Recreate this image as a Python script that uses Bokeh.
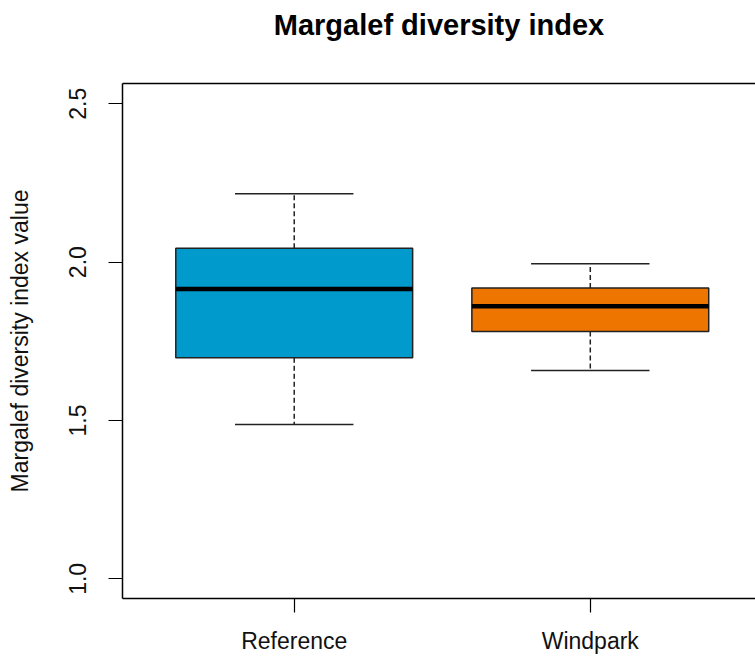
from bokeh.plotting import figure
from bokeh.models import FixedTicker, Range1d, LinearAxis
from bokeh.embed import file_html
from bokeh.resources import INLINE

# ---- data ----
categories = ["Reference", "Windpark"]
whisker_low = [1.487, 1.658]
q1 = [1.698, 1.781]
median = [1.915, 1.861]
q3 = [2.044, 1.918]
whisker_high = [2.216, 1.995]
box_colors = ["#009ACD", "#EE7600"]
y_ticks = [1.0, 1.5, 2.0, 2.5]

title_text = "Margalef diversity index"
y_label = "Margalef diversity index value"

FONT = "Liberation Sans"

xs = [i + 1 for i in range(len(categories))]
box_w = 0.8
cap_w = 0.4

p = figure(width=755, height=656, output_backend="svg", toolbar_location=None,
           x_range=Range1d(0.42, 2.558), y_range=Range1d(0.938, 2.564),
           min_border_left=122, min_border_right=0, min_border_top=83,
           min_border_bottom=58)

p.background_fill_color = "white"
p.border_fill_color = "white"
p.outline_line_color = None
p.xgrid.visible = False
p.ygrid.visible = False

# whiskers (dashed)
p.segment(x0=xs, y0=q3, x1=xs, y1=whisker_high, line_color="#222222",
          line_width=1.5, line_dash="5 3")
p.segment(x0=xs, y0=q1, x1=xs, y1=whisker_low, line_color="#222222",
          line_width=1.5, line_dash="5 3")
# caps
p.segment(x0=[x - cap_w / 2 for x in xs], y0=whisker_high,
          x1=[x + cap_w / 2 for x in xs], y1=whisker_high,
          line_color="#222222", line_width=1.5)
p.segment(x0=[x - cap_w / 2 for x in xs], y0=whisker_low,
          x1=[x + cap_w / 2 for x in xs], y1=whisker_low,
          line_color="#222222", line_width=1.5)
# boxes
p.vbar(x=xs, width=box_w, bottom=q1, top=q3, fill_color=box_colors,
       line_color="#222222", line_width=1.5)
# medians
p.segment(x0=[x - box_w / 2 for x in xs], y0=median,
          x1=[x + box_w / 2 for x in xs], y1=median,
          line_color="black", line_width=4.5)

# x axis (bottom)
xa = p.below[0]
xa.ticker = FixedTicker(ticks=xs)
xa.major_label_overrides = {x: c for x, c in zip(xs, categories)}
xa.axis_line_color = "black"
xa.axis_line_width = 1.5
xa.major_tick_line_color = "black"
xa.major_tick_line_width = 1.2
xa.major_tick_out = 14
xa.major_tick_in = 0
xa.minor_tick_line_color = None
xa.major_label_standoff = 15
xa.major_label_text_font = FONT
xa.major_label_text_font_size = "23px"
xa.major_label_text_color = "#111111"

# y axis (left)
ya = p.left[0]
ya.ticker = FixedTicker(ticks=y_ticks)
ya.major_label_overrides = {t: f"{t:.1f}" for t in y_ticks}
ya.major_label_orientation = "vertical"
ya.axis_line_color = "black"
ya.axis_line_width = 1.5
ya.major_tick_line_color = "black"
ya.major_tick_line_width = 1.2
ya.major_tick_out = 14
ya.major_tick_in = 0
ya.minor_tick_line_color = None
ya.major_label_standoff = 22
ya.major_label_text_font = FONT
ya.major_label_text_font_size = "23px"
ya.major_label_text_color = "#111111"
ya.axis_label = y_label
ya.axis_label_text_font = FONT
ya.axis_label_text_font_size = "23px"
ya.axis_label_text_font_style = "normal"
ya.axis_label_text_color = "#111111"
ya.axis_label_standoff = 34

# top border line of the frame; its blank label space lifts the title
top = LinearAxis(ticker=FixedTicker(ticks=[]), major_label_text_font_size="0px",
                 major_label_standoff=0,
                 axis_line_color="black", axis_line_width=1.5,
                 major_tick_out=0, major_tick_in=0,
                 major_tick_line_color=None, minor_tick_line_color=None,
                 axis_label=" ", axis_label_text_font=FONT,
                 axis_label_text_font_size="20px", axis_label_standoff=13)
p.add_layout(top, "above")

# title
p.title.text = title_text
p.title.align = "center"
p.title.offset = 5
p.title.standoff = 10
p.title.text_font = FONT
p.title.text_font_size = "29px"
p.title.text_font_style = "bold"
p.title.text_color = "black"

open("out.html", "w").write(file_html(p, INLINE))
